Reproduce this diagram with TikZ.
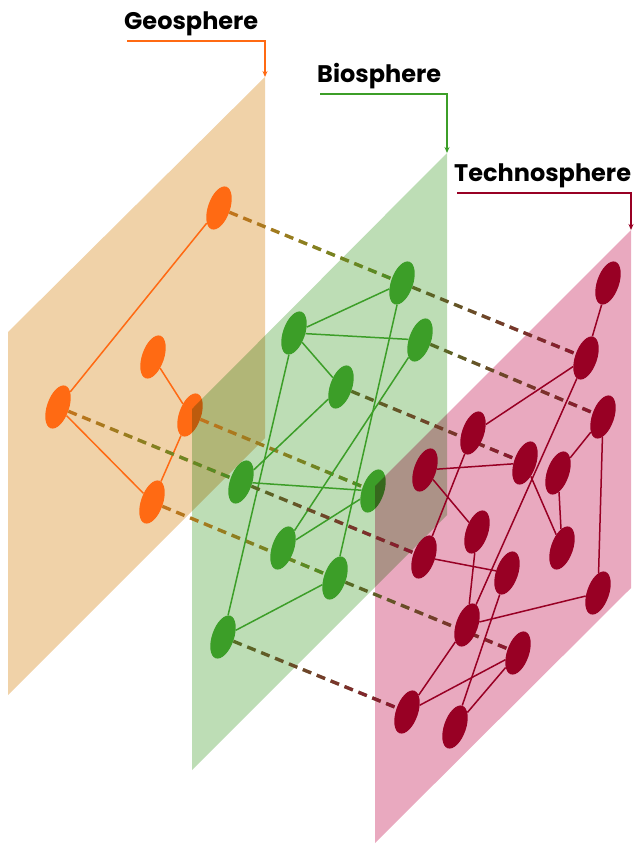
\documentclass[tikz,border=0pt]{standalone}
\usepackage{fontspec}
\usetikzlibrary{shapes.geometric,arrows.meta,fadings}
\newfontfamily\spherefont{Poppins}

\definecolor{geoplane}{HTML}{F0D2A8}
\definecolor{bioplane}{HTML}{BDDDB5}
\definecolor{technoplane}{HTML}{E9A9BF}
\definecolor{geonode}{HTML}{FF6A13}
\definecolor{bionode}{HTML}{3C9E28}
\definecolor{technonode}{HTML}{980024}
\definecolor{geolinkA}{HTML}{C4741C}
\definecolor{geolinkB}{HTML}{4A8E26}
\definecolor{biolinkA}{HTML}{566E24}
\definecolor{biolinkB}{HTML}{8E1430}

\pgfdeclarelayer{geo plane}
\pgfdeclarelayer{geo graph}
\pgfdeclarelayer{bio plane}
\pgfdeclarelayer{geo links}
\pgfdeclarelayer{bio graph}
\pgfdeclarelayer{techno plane}
\pgfdeclarelayer{bio links}
\pgfsetlayers{geo plane,geo graph,bio plane,geo links,bio graph,techno plane,bio links,main}

\tikzfading[name=fade in east, left color=transparent!100, right color=transparent!0]

\tikzstyle{geo} = [ellipse, fill=geonode, minimum width=22pt, minimum height=45pt, inner sep=0pt, rotate=-19]
\tikzstyle{bio} = [geo, fill=bionode]
\tikzstyle{techno} = [geo, fill=technonode]
\tikzstyle{geoedge} = [color=geonode, line width=1.5pt]
\tikzstyle{bioedge} = [color=bionode, line width=1.5pt]
\tikzstyle{technoedge} = [color=technonode, line width=1.5pt]
\tikzstyle{link} = [line width=3.3pt, dash pattern=on 9pt off 6pt]
\tikzstyle{leader} = [line width=1.4pt, -{Stealth[length=6pt,width=5pt]}]
\tikzstyle{sphere} = [anchor=base west, inner sep=0pt, font=\spherefont\bfseries\fontsize{24}{26}\selectfont]

\begin{document}
\begin{tikzpicture}[x=1pt,y=-1pt]
  \useasboundingbox (0,0) rectangle (633,845);

  % geosphere
  \begin{pgfonlayer}{geo plane}
    \fill[geoplane] (8,332) -- (265,77) -- (265,438) -- (8,695) -- cycle;
  \end{pgfonlayer}
  \begin{pgfonlayer}{geo graph}
    \node[geo] (g1) at (219,208) {};
    \node[geo] (g2) at (153,357) {};
    \node[geo] (g3) at (58,407) {};
    \node[geo] (g4) at (190,415) {};
    \node[geo] (g5) at (152,502) {};
    \path[geoedge] (g1) edge (g3) (g2) edge (g4) (g3) edge (g5) (g4) edge (g5);
  \end{pgfonlayer}

  % biosphere
  \begin{pgfonlayer}{bio plane}
    \fill[bioplane, blend mode=multiply] (192,409) -- (447,153) -- (447,515) -- (192,770) -- cycle;
  \end{pgfonlayer}
  \begin{pgfonlayer}{bio graph}
    \node[bio] (b1) at (402,283) {};
    \node[bio] (b2) at (294,333) {};
    \node[bio] (b3) at (420,340) {};
    \node[bio] (b4) at (341,387) {};
    \node[bio] (b5) at (241,482) {};
    \node[bio] (b6) at (373,491) {};
    \node[bio] (b7) at (283,548) {};
    \node[bio] (b8) at (335,578) {};
    \node[bio] (b9) at (223,637) {};
    \path[bioedge] (b1) edge (b2) (b2) edge (b3) (b2) edge (b4) (b1) edge (b8)
      (b3) edge (b7) (b2) edge (b9) (b4) edge (b5) (b5) edge (b6)
      (b6) edge (b7) (b8) edge (b9);
  \end{pgfonlayer}

  % technosphere
  \begin{pgfonlayer}{techno plane}
    \fill[technoplane, blend mode=multiply] (375,486) -- (631,230) -- (631,588) -- (375,843) -- cycle;
  \end{pgfonlayer}
  \node[techno] (t1) at (608,283) {};
  \node[techno] (t2) at (586,358) {};
  \node[techno] (t3) at (603,417) {};
  \node[techno] (t4) at (473,433) {};
  \node[techno] (t5) at (525,463) {};
  \node[techno] (t6) at (558,473) {};
  \node[techno] (t7) at (425,470) {};
  \node[techno] (t8) at (477,532) {};
  \node[techno] (t9) at (562,548) {};
  \node[techno] (t10) at (424,557) {};
  \node[techno] (t11) at (507,573) {};
  \node[techno] (t12) at (598,593) {};
  \node[techno] (t13) at (467,625) {};
  \node[techno] (t14) at (518,653) {};
  \node[techno] (t15) at (407,712) {};
  \node[techno] (t16) at (455,727) {};
  \path[technoedge] (t1) edge (t2) (t2) edge (t4) (t2) edge (t13) (t3) edge (t6)
    (t3) edge (t12) (t4) edge (t10) (t5) edge (t7) (t5) edge (t9)
    (t6) edge (t9) (t7) edge (t8) (t8) edge (t13) (t10) edge (t11)
    (t11) edge (t16) (t12) edge (t13) (t13) edge (t15) (t14) edge (t15)
    (t14) edge (t16);

  % dashed links between the spheres
  \begin{pgfonlayer}{geo links}
    \foreach \a/\b in {g1/b1, g3/b5, g4/b6, g5/b8} {
      \draw[link, geolinkA] (\a) -- (\b);
      \draw[link, geolinkB, path fading=fade in east] (\a) -- (\b);
    }
  \end{pgfonlayer}
  \begin{pgfonlayer}{bio links}
    \foreach \a/\b in {b1/t2, b3/t3, b4/t5, b5/t10, b8/t14, b9/t15} {
      \draw[link, biolinkA] (\a) -- (\b);
      \draw[link, biolinkB, path fading=fade in east] (\a) -- (\b);
    }
  \end{pgfonlayer}

  % labels
  \node[sphere] (geolabel) at (124,30) {Geosphere};
  \node[sphere] (biolabel) at (317,83) {Biosphere};
  \node[sphere] (technolabel) at (454,182) {Technosphere};
  \coordinate (geotop) at (265,77);
  \coordinate (biotop) at (447,153);
  \coordinate (technotop) at (631,230);
  \draw[leader, geonode] ([xshift=3pt,yshift=-11pt]geolabel.base west) -| (geotop);
  \draw[leader, bionode] ([xshift=3pt,yshift=-11pt]biolabel.base west) -| (biotop);
  \draw[leader, technonode] ([xshift=3pt,yshift=-11pt]technolabel.base west) -| (technotop);
\end{tikzpicture}
\end{document}
